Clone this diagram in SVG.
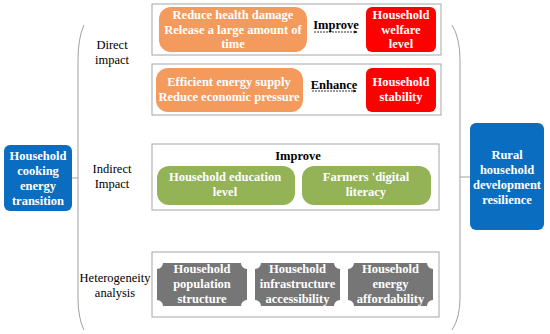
<svg xmlns="http://www.w3.org/2000/svg" width="550" height="334" viewBox="0 0 550 334" font-family="'Liberation Serif', 'DejaVu Serif', serif">
<defs>
<marker id="ah" viewBox="0 0 6 6" refX="5" refY="3" markerWidth="4" markerHeight="4" orient="auto"><path d="M0,0 L6,3 L0,6 Z" fill="#000"/></marker>
<style>
text{font-family:'Liberation Serif','DejaVu Serif',serif;font-size:12.5px;text-anchor:middle}
.b{font-weight:bold}
.w{fill:#fff;font-weight:bold}
.lbl{fill:#000}
.panel{fill:#fff;stroke:#a6a6a6;stroke-width:1}
.blue{fill:#0b6dbf}
.orange{fill:#f39a5c}
.red{fill:#ff0000}
.green{fill:#93b356}
.gray{fill:#767676}
.br{fill:none;stroke:#a0a0a0;stroke-width:1}
</style>
</defs>
<rect width="550" height="334" fill="#fff"/>

<g id="panel1">
<rect class="panel" x="152" y="4" width="289" height="51"/>
</g>
<g id="panel2">
<rect class="panel" x="152" y="64" width="289" height="51"/>
</g>
<g id="panel3">
<rect class="panel" x="152" y="144" width="287" height="66"/>
<text class="b" x="298" y="160">Improve</text>
</g>
<g id="panel4">
<rect class="panel" x="152" y="252" width="287" height="65"/>
</g>

<g id="connectors">
<path class="br" d="M84,25 Q78,38 78,60 L78,298 Q78,318 84,330"/>
<line class="br" x1="72" y1="178" x2="78" y2="178"/>
<path class="br" d="M452,25 Q460,38 460,60 L460,298 Q460,318 452,330"/>
<line class="br" x1="460" y1="177" x2="470" y2="177"/>
<line x1="314" y1="32" x2="357" y2="32" stroke="#000" stroke-width="0.8" stroke-dasharray="2,1" marker-end="url(#ah)"/>
<line x1="312" y1="91" x2="356" y2="91" stroke="#000" stroke-width="0.8" stroke-dasharray="2,1" marker-end="url(#ah)"/>
</g>

<g id="source">
<rect class="blue" x="4" y="145" width="68" height="66" rx="6"/>
<text class="w" x="38" y="160">Household</text>
<text class="w" x="38" y="175">cooking</text>
<text class="w" x="38" y="190">energy</text>
<text class="w" x="38" y="205">transition</text>
</g>

<g id="target">
<rect class="blue" x="470" y="123" width="74" height="107" rx="6"/>
<text class="w" x="507" y="159">Rural</text>
<text class="w" x="507" y="174">household</text>
<text class="w" x="507" y="189">development</text>
<text class="w" x="507" y="204">resilience</text>
</g>

<g id="label-direct">
<text class="lbl" x="112" y="49">Direct</text>
<text class="lbl" x="112" y="64">impact</text>
</g>
<g id="label-indirect">
<text class="lbl" x="112" y="173">Indirect</text>
<text class="lbl" x="112" y="188">Impact</text>
</g>
<g id="label-hetero">
<text class="lbl" x="115" y="282">Heterogeneity</text>
<text class="lbl" x="115" y="297">analysis</text>
</g>

<g id="health">
<rect class="orange" x="159" y="7" width="148" height="45" rx="12"/>
<text class="w" x="233" y="19">Reduce health damage</text>
<text class="w" x="233" y="34">Release a large amount of</text>
<text class="w" x="233" y="48">time</text>
</g>
<g id="improve-label">
<text class="b" x="336" y="29">Improve</text>
</g>
<g id="welfare">
<rect class="red" x="366" y="7" width="70" height="45" rx="6"/>
<text class="w" x="401" y="19">Household</text>
<text class="w" x="401" y="34">welfare</text>
<text class="w" x="401" y="48">level</text>
</g>

<g id="energy">
<rect class="orange" x="156" y="68" width="147" height="44" rx="12"/>
<text class="w" x="229" y="86">Efficient energy supply</text>
<text class="w" x="229" y="101">Reduce economic pressure</text>
</g>
<g id="enhance-label">
<text class="b" x="334" y="89">Enhance</text>
</g>
<g id="stability">
<rect class="red" x="366" y="68" width="70" height="44" rx="6"/>
<text class="w" x="401" y="86">Household</text>
<text class="w" x="401" y="101">stability</text>
</g>

<g id="education">
<rect class="green" x="157" y="166" width="138" height="39" rx="12"/>
<text class="w" x="225" y="181">Household education</text>
<text class="w" x="225" y="196">level</text>
</g>
<g id="digital">
<rect class="green" x="302" y="166" width="129" height="39" rx="12"/>
<text class="w" x="366" y="181">Farmers 'digital</text>
<text class="w" x="366" y="196">literacy</text>
</g>

<g id="population">
<path class="gray" d="M163,263 L241,263 A6,6 0 0 0 247,269 L247,300 A6,6 0 0 0 241,306 L163,306 A6,6 0 0 0 157,300 L157,269 A6,6 0 0 0 163,263 Z"/>
<text class="w" x="202" y="273">Household</text>
<text class="w" x="202" y="288">population</text>
<text class="w" x="202" y="303">structure</text>
</g>
<g id="infrastructure">
<path class="gray" d="M261,263 L334,263 A6,6 0 0 0 340,269 L340,300 A6,6 0 0 0 334,306 L261,306 A6,6 0 0 0 255,300 L255,269 A6,6 0 0 0 261,263 Z"/>
<text class="w" x="297.5" y="273">Household</text>
<text class="w" x="297.5" y="288">infrastructure</text>
<text class="w" x="297.5" y="303">accessibility</text>
</g>
<g id="affordability">
<path class="gray" d="M354,263 L427,263 A6,6 0 0 0 433,269 L433,300 A6,6 0 0 0 427,306 L354,306 A6,6 0 0 0 348,300 L348,269 A6,6 0 0 0 354,263 Z"/>
<text class="w" x="390.5" y="273">Household</text>
<text class="w" x="390.5" y="288">energy</text>
<text class="w" x="390.5" y="303">affordability</text>
</g>
</svg>
